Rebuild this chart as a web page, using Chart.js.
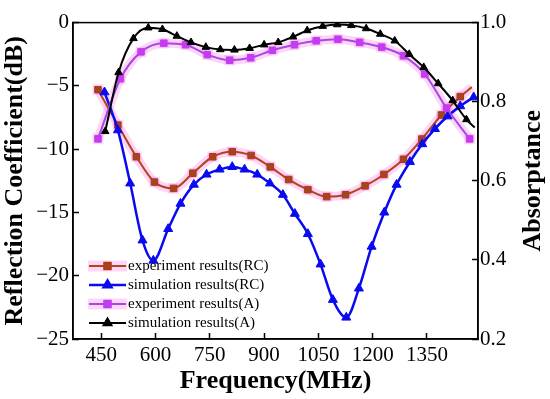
<!DOCTYPE html>
<html><head><meta charset="utf-8">
<script src="https://cdn.jsdelivr.net/npm/chart.js@4/dist/chart.umd.min.js"></script>
<style>html,body{margin:0;padding:0;background:#fff}canvas{display:block}</style>
</head><body>
<canvas id="c" width="550" height="399"></canvas>
<script>
// ---- data ----
const FREQ_EXP_RC = [441, 496, 547, 597, 650, 703, 758, 812, 864, 917, 968, 1021, 1073, 1125, 1179, 1231, 1285, 1336, 1390, 1442, 1474];
const EXP_RC      = [-5.3, -8.1, -10.6, -12.6, -13.1, -11.9, -10.6, -10.2, -10.5, -11.4, -12.4, -13.2, -13.75, -13.6, -12.9, -12.0, -10.8, -9.2, -7.3, -5.85, -5.1];

const FREQ_SIM_RC = [459, 496, 530, 564, 594, 635, 669, 706, 741, 777, 812, 846, 881, 916, 952, 985, 1021, 1056, 1090, 1127, 1162, 1197, 1232, 1266, 1303, 1337, 1372, 1407, 1442, 1479];
const SIM_RC      = [-5.5, -8.5, -12.7, -17.2, -18.8, -16.3, -14.3, -12.8, -12.0, -11.6, -11.4, -11.6, -12.0, -12.7, -13.6, -15.1, -16.7, -19.1, -21.9, -23.3, -21.0, -17.7, -15.0, -12.8, -11.0, -9.6, -8.4, -7.4, -6.6, -5.9];

const FREQ_EXP_A = [441, 503, 560, 623, 683, 743, 805, 863, 923, 984, 1044, 1104, 1164, 1225, 1285, 1344, 1404, 1468];
const EXP_A      = [0.706, 0.858, 0.926, 0.948, 0.944, 0.919, 0.905, 0.911, 0.930, 0.944, 0.954, 0.958, 0.950, 0.938, 0.916, 0.870, 0.784, 0.706];

const FREQ_SIM_A = [461, 498, 539, 580, 619, 659, 698, 739, 779, 818, 860, 900, 939, 980, 1019, 1062, 1102, 1141, 1182, 1221, 1261, 1301, 1341, 1381, 1421, 1459, 1482];
const SIM_A      = [0.725, 0.874, 0.960, 0.987, 0.983, 0.966, 0.950, 0.938, 0.932, 0.931, 0.935, 0.944, 0.950, 0.964, 0.980, 0.991, 0.995, 0.993, 0.985, 0.971, 0.954, 0.920, 0.887, 0.846, 0.803, 0.755, 0.735];

const X_TICKS = [450, 600, 750, 900, 1050, 1200, 1350];
const Y_LEFT_TICKS = [0, -5, -10, -15, -20, -25];
const Y_RIGHT_TICKS = [1.0, 0.8, 0.6, 0.4, 0.2];
const SERIES_LABELS = ['experiment results(RC)', 'simulation results(RC)', 'experiment results(A)', 'simulation results(A)'];
const X_TITLE = 'Frequency(MHz)';
const YL_TITLE = 'Reflection Coefficient(dB)';
const YR_TITLE = 'Absorptance';

// ---- styling ----
const SERIF = "'Liberation Serif', 'Times New Roman', serif";
Chart.defaults.font.family = SERIF;
Chart.defaults.color = '#000';
const HALO = 'rgba(250,150,235,0.40)';

function pts(xs, ys) { return xs.map((x, i) => ({ x: x, y: ys[i] })); }
const radiusFn = r => (c => (c.dataset.noEndMarker && c.dataIndex === c.dataset.data.length - 1) ? 0 : r);

const datasets = [
  { data: pts(FREQ_EXP_RC, EXP_RC), yAxisID: 'y', order: 10, borderColor: HALO, borderWidth: 9,
    pointStyle: 'rect', pointRadius: radiusFn(7.5), noEndMarker: true, pointBackgroundColor: HALO, pointBorderWidth: 0 },
  { data: pts(FREQ_EXP_A, EXP_A), yAxisID: 'y1', order: 10, borderColor: HALO, borderWidth: 9,
    pointStyle: 'rect', pointRadius: 7.5, pointBackgroundColor: HALO, pointBorderWidth: 0 },
  { label: SERIES_LABELS[0], legendRow: 0, halo: true, data: pts(FREQ_EXP_RC, EXP_RC), yAxisID: 'y', order: 3,
    borderColor: '#B2441C', borderWidth: 2, pointStyle: 'rect', pointRadius: radiusFn(4.6), noEndMarker: true,
    pointBackgroundColor: '#9A4A1E', pointBorderColor: '#C0301C', pointBorderWidth: 1 },
  { label: SERIES_LABELS[1], legendRow: 1, data: pts(FREQ_SIM_RC, SIM_RC), yAxisID: 'y', order: 2,
    borderColor: '#0A0AF0', borderWidth: 2.5, pointStyle: 'triangle', pointRadius: 5.2,
    pointBackgroundColor: '#0A0AF0', pointBorderColor: '#0A0AF0', pointBorderWidth: 1 },
  { label: SERIES_LABELS[2], legendRow: 2, halo: true, data: pts(FREQ_EXP_A, EXP_A), yAxisID: 'y1', order: 1,
    borderColor: '#A548E8', borderWidth: 2, pointStyle: 'rect', pointRadius: 4.6,
    pointBackgroundColor: '#C43CF0', pointBorderColor: '#C43CF0', pointBorderWidth: 1 },
  { label: SERIES_LABELS[3], legendRow: 3, data: pts(FREQ_SIM_A, SIM_A), yAxisID: 'y1', order: 0,
    borderColor: '#000', borderWidth: 2, pointStyle: 'triangle', pointRadius: radiusFn(4.4), noEndMarker: true,
    pointBackgroundColor: '#000', pointBorderColor: '#000', pointBorderWidth: 1 }
];
datasets.forEach(d => { d.cubicInterpolationMode = 'monotone'; d.fill = false; });

const frameAndTitles = {
  id: 'frameAndTitles',
  afterDraw(chart) {
    const { ctx, chartArea: a } = chart;
    ctx.save();
    ctx.strokeStyle = '#000';
    ctx.lineWidth = 1.5;
    ctx.strokeRect(a.left, a.top, a.right - a.left, a.bottom - a.top);
    // right axis title, reading bottom-to-top
    ctx.translate(533, (a.top + a.bottom) / 2);
    ctx.rotate(-Math.PI / 2);
    ctx.font = 'bold 26px ' + SERIF;
    ctx.fillStyle = '#000';
    ctx.textAlign = 'center';
    ctx.textBaseline = 'middle';
    ctx.fillText(YR_TITLE, 0, 0);
    ctx.restore();
  }
};

const customLegend = {
  id: 'customLegend',
  afterDraw(chart) {
    const ctx = chart.ctx;
    const x0 = 89, x1 = 126, xm = 107.5, tx = 128, y0 = 266, dy = 19;
    ctx.save();
    chart.data.datasets.forEach(ds => {
      if (ds.legendRow === undefined) return;
      const y = y0 + ds.legendRow * dy;
      if (ds.halo) {
        ctx.fillStyle = HALO;
        ctx.fillRect(x0 - 1, y - 5.5, x1 - x0 + 2, 11);
      }
      ctx.strokeStyle = ds.borderColor;
      ctx.lineWidth = ds.borderWidth;
      ctx.beginPath(); ctx.moveTo(x0, y); ctx.lineTo(x1, y); ctx.stroke();
      Chart.helpers.drawPoint(ctx, {
        pointStyle: ds.pointStyle, radius: 4.6, borderWidth: 1, rotation: 0
      }, xm, y);
      ctx.fillStyle = ds.pointBackgroundColor;
      ctx.strokeStyle = ds.pointBorderColor;
      ctx.lineWidth = 1;
      ctx.beginPath();
      Chart.helpers.drawPoint(ctx, { pointStyle: ds.pointStyle, radius: 4.6, borderWidth: 1, rotation: 0 }, xm, y);
      ctx.fillStyle = '#000';
      ctx.font = '15px ' + SERIF;
      ctx.textAlign = 'left';
      ctx.textBaseline = 'middle';
      ctx.fillText(ds.label, tx, y);
    });
    ctx.restore();
  }
};

const tickGrid = { drawOnChartArea: false, tickLength: -6, tickColor: '#000', tickWidth: 1.5 };
const border = { color: '#000', width: 1.5 };

new Chart(document.getElementById('c'), {
  type: 'line',
  data: { datasets: datasets },
  plugins: [frameAndTitles, customLegend],
  options: {
    responsive: false,
    devicePixelRatio: 1,
    animation: false,
    layout: { padding: { top: 13, left: 0, right: 0, bottom: 0 } },
    plugins: { legend: { display: false }, tooltip: { enabled: false } },
    scales: {
      x: {
        type: 'linear', min: 372, max: 1491,
        afterBuildTicks: s => { s.ticks = X_TICKS.map(v => ({ value: v })); },
        afterFit: s => { s.height = 60; },
        ticks: { font: { size: 21 }, padding: 10, maxRotation: 0, callback: v => String(v) },
        grid: tickGrid, border: border,
        title: { display: true, text: X_TITLE, font: { size: 26, weight: 'bold' }, padding: { top: 0, bottom: 2 } }
      },
      y: {
        position: 'left', min: -25, max: 0,
        afterBuildTicks: s => { s.ticks = Y_LEFT_TICKS.map(v => ({ value: v })); },
        afterFit: s => { s.width = 73; },
        ticks: { font: { size: 21 }, padding: 10, callback: v => (v < 0 ? '\u2212' + Math.abs(v) : String(v)) },
        grid: tickGrid, border: border,
        title: { display: true, text: YL_TITLE, font: { size: 26, weight: 'bold' }, padding: { top: 0, bottom: 0 } }
      },
      y1: {
        position: 'right', min: 0.2, max: 1.0,
        afterBuildTicks: s => { s.ticks = Y_RIGHT_TICKS.map(v => ({ value: v })); },
        afterFit: s => { s.width = 72; },
        ticks: { font: { size: 21 }, padding: 8, callback: v => Number(v).toFixed(1) },
        grid: tickGrid, border: border
      }
    }
  }
});
</script>
</body></html>
